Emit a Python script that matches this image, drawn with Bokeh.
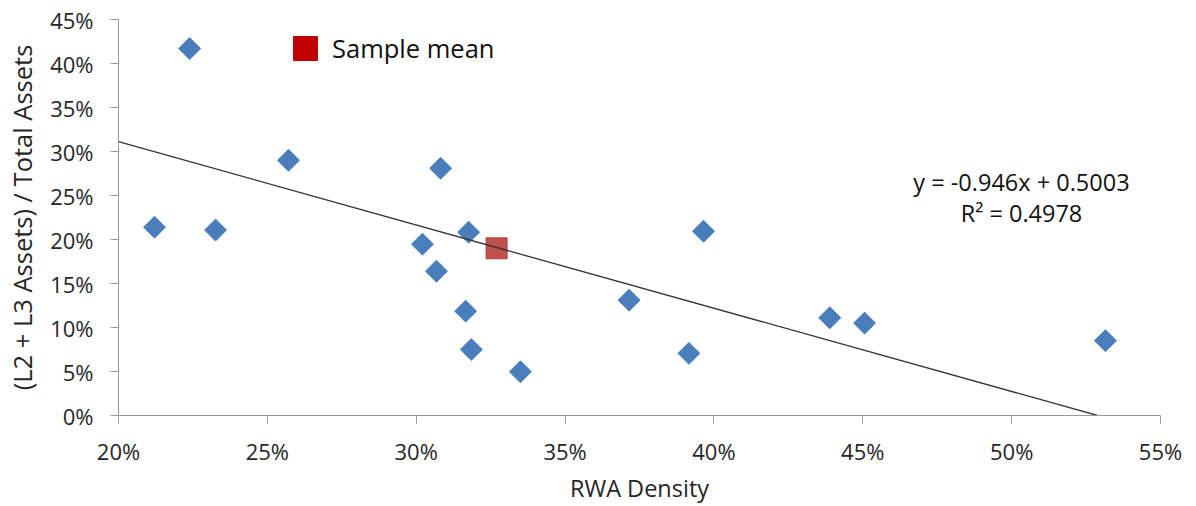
import math
from bokeh.plotting import figure
from bokeh.models import Range1d, FixedTicker, NumeralTickFormatter, Label, Legend, LegendItem
from bokeh.embed import file_html
from bokeh.resources import INLINE

# ---- data ----
rwa_density = [0.2239, 0.2121, 0.2326, 0.2571, 0.3082, 0.3021, 0.3176, 0.3068, 0.3166,
               0.3185, 0.3350, 0.3715, 0.3916, 0.3965, 0.4389, 0.4506, 0.5315]
l2l3_share = [0.417, 0.214, 0.2107, 0.290, 0.281, 0.1947, 0.2083, 0.164, 0.1186,
              0.075, 0.0497, 0.131, 0.0706, 0.2094, 0.111, 0.105, 0.085]
mean_x = [0.327]
mean_y = [0.190]
slope = -0.946
intercept = 0.5003
r_squared = 0.4978
x_ticks = [0.20, 0.25, 0.30, 0.35, 0.40, 0.45, 0.50, 0.55]
y_ticks = [0.0, 0.05, 0.10, 0.15, 0.20, 0.25, 0.30, 0.35, 0.40, 0.45]

FONT = "Open Sans"
TXT = "#262626"
AX = "#9a9a9a"

p = figure(width=1196, height=506, output_backend="svg", toolbar_location=None,
           x_range=Range1d(x_ticks[0], x_ticks[-1]), y_range=Range1d(y_ticks[0], y_ticks[-1]),
           min_border_left=118, min_border_right=36, min_border_top=19, min_border_bottom=91)
p.outline_line_color = None
p.xgrid.visible = False
p.ygrid.visible = False
p.background_fill_color = "white"
p.border_fill_color = "white"

for ax in (p.xaxis[0], p.yaxis[0]):
    ax.axis_line_color = AX
    ax.major_tick_line_color = AX
    ax.minor_tick_line_color = None
    ax.major_tick_in = 0
    ax.major_tick_out = 8
    ax.major_label_text_font = FONT
    ax.major_label_text_font_size = "22px"
    ax.major_label_text_color = TXT
    ax.axis_label_text_font = FONT
    ax.axis_label_text_font_style = "normal"
    ax.axis_label_text_color = TXT
    ax.formatter = NumeralTickFormatter(format="0%")

p.xaxis.ticker = FixedTicker(ticks=x_ticks)
p.yaxis.ticker = FixedTicker(ticks=y_ticks)
p.xaxis.axis_label = "RWA Density"
p.yaxis.axis_label = "(L2 + L3 Assets) / Total Assets"
p.xaxis.axis_label_text_font_size = "23.5px"
p.yaxis.axis_label_text_font_size = "25.5px"
p.xaxis.major_label_standoff = 12
p.yaxis.major_label_standoff = 17
p.xaxis.axis_label_standoff = 3
p.yaxis.axis_label_standoff = 8

# data points (diamonds)
p.scatter(rwa_density, l2l3_share, marker="square", angle=math.pi / 4, size=15.5,
          fill_color="#4A7EBB", line_color="#4A7EBB")

# sample mean marker
p.scatter(mean_x, mean_y, marker="square", size=21, fill_color="#C0504D", line_color="#B4403D")

# linear trendline
x_end = -intercept / slope
p.line([x_ticks[0], x_end], [slope * x_ticks[0] + intercept, slope * x_end + intercept],
       line_color="#333333", line_width=1.3)

# legend
dummy = p.rect(mean_x, mean_y, width=1, height=1, width_units="screen", height_units="screen",
               fill_color="#C00000", line_color="#C00000", visible=False)
legend = Legend(items=[LegendItem(label="Sample mean", renderers=[dummy])],
                location=(172, 350), glyph_width=30, glyph_height=30, label_height=30,
                label_text_font=FONT, label_text_font_size="25.5px", label_text_color="#111111",
                label_standoff=12, padding=0, margin=0, spacing=0,
                border_line_alpha=0, background_fill_alpha=0)
p.add_layout(legend)

# equation labels
eq1 = f"y = {slope}x + {intercept}"
eq2 = f"R\u00b2 = {r_squared}"
p.add_layout(Label(x=0.5033, y=0.265, text=eq1, text_align="center", text_baseline="middle",
                   text_font=FONT, text_font_size="23.5px", text_color="#111111"))
p.add_layout(Label(x=0.5033, y=0.2298, text=eq2, text_align="center", text_baseline="middle",
                   text_font=FONT, text_font_size="23.5px", text_color="#111111"))

open("out.html", "w").write(file_html(p, INLINE))
